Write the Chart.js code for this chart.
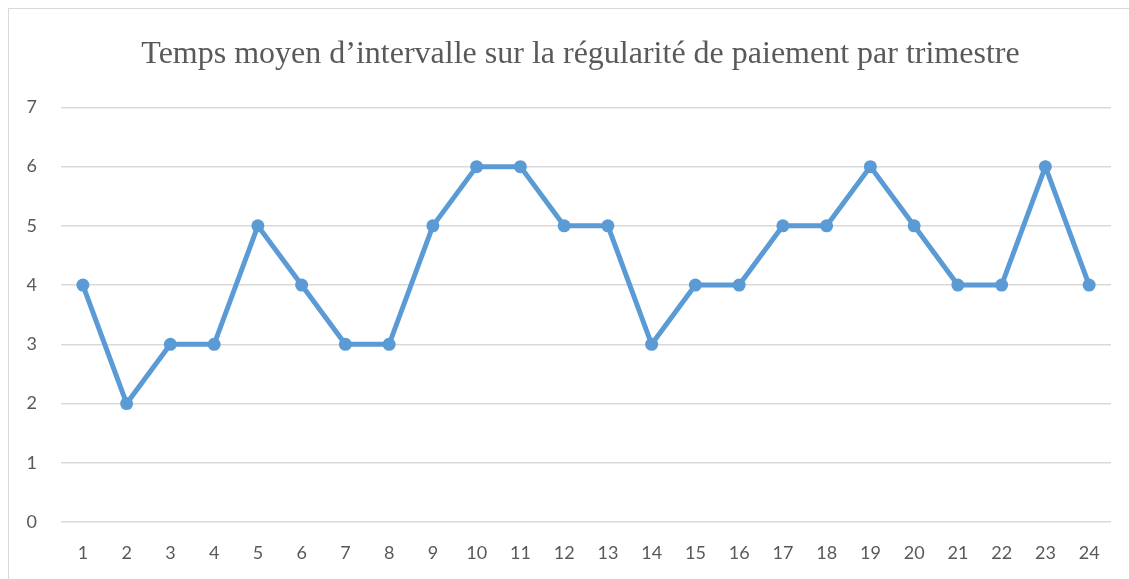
<!DOCTYPE html>
<html>
<head>
<meta charset="utf-8">
<script src="https://cdn.jsdelivr.net/npm/chart.js@4.4.0/dist/chart.umd.min.js"></script>
<style>
  html, body { margin: 0; padding: 0; background: #ffffff; }
  #wrap { position: relative; width: 1129px; height: 579px; overflow: hidden; }
  #frame { position: absolute; left: 8px; top: 8px; width: 1200px; height: 700px;
           border-left: 1px solid #d9d9d9; border-top: 1px solid #d9d9d9; }
  #myChart { position: absolute; left: 0; top: 0; }
</style>
</head>
<body>
<div id="wrap">
  <div id="frame"></div>
  <canvas id="myChart" width="1129" height="579"></canvas>
</div>
<script>
// categories (trimestres)
const quarters = ["1","2","3","4","5","6","7","8","9","10","11","12",
                  "13","14","15","16","17","18","19","20","21","22","23","24"];
// temps moyen d'intervalle
const intervalValues = [4,2,3,3,5,4,3,3,5,6,6,5,5,3,4,4,5,5,6,5,4,4,6,4];
const chartTitle = "Temps moyen d\u2019intervalle sur la régularité de paiement par trimestre";

const ctx = document.getElementById("myChart");

// shift the title box so it is centred like the original
const titleShift = {
  id: "titleShift",
  afterLayout: (chart) => {
    if (chart.titleBlock) {
      chart.titleBlock.left = 50;
    }
  },
};

const myChartView = new Chart(ctx, {
  type: "line",
  data: {
    labels: quarters,
    datasets: [
      {
        label: "Temps moyen",
        data: intervalValues,
        borderColor: "#5b9bd5",
        backgroundColor: "#5b9bd5",
        borderWidth: 5,
        pointRadius: 6.5,
        pointHoverRadius: 6.5,
        pointBorderWidth: 0,
        tension: 0,
      },
    ],
  },
  options: {
    responsive: false,
    animation: false,
    layout: { padding: { left: 0, right: 18, top: 0, bottom: 0 } },
    plugins: {
      legend: { display: false },
      tooltip: { enabled: false },
      title: {
        display: true,
        text: chartTitle,
        color: "#595959",
        font: { family: "'Liberation Serif', 'Times New Roman', serif", size: 32, weight: "normal" },
        padding: { top: 35, bottom: 34 },
      },
    },
    scales: {
      x: {
        offset: true,
        grid: { display: false, drawTicks: false },
        border: { display: false },
        ticks: {
          color: "#595959",
          font: { family: "Lato, 'Open Sans', sans-serif", size: 18 },
          padding: 20,
          maxRotation: 0,
        },
        afterFit: (scale) => { scale.height = 57; },
      },
      y: {
        min: 0,
        max: 7,
        grid: { color: "#d9d9d9", lineWidth: 1.5, drawTicks: false },
        border: { display: false },
        ticks: {
          stepSize: 1,
          color: "#595959",
          font: { family: "Lato, 'Open Sans', sans-serif", size: 18 },
          padding: 24,
        },
        afterFit: (scale) => { scale.width = 61; },
      },
    },
  },
  plugins: [titleShift],
});
</script>
</body>
</html>
